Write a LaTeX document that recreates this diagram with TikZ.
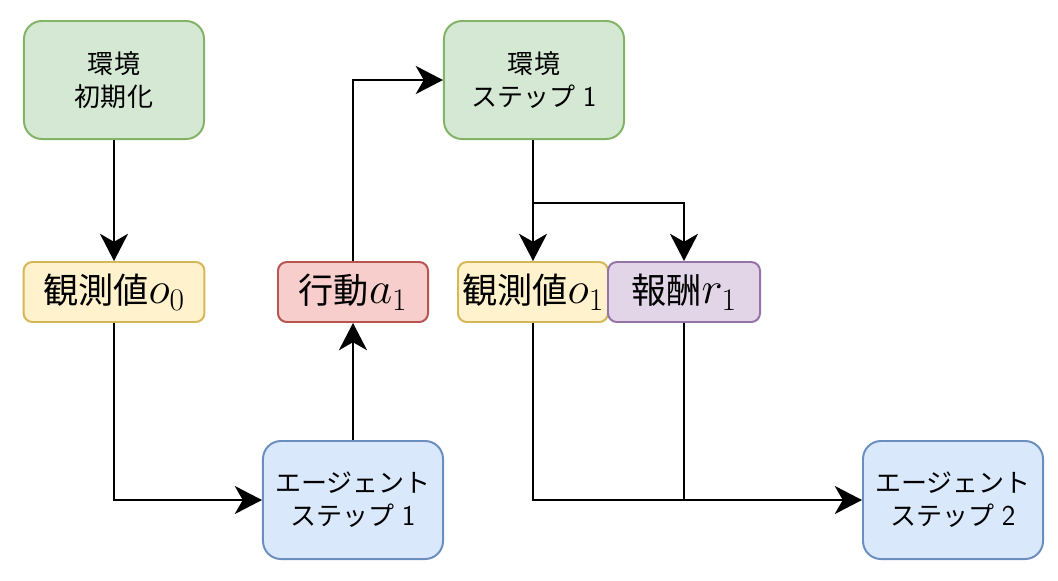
\RequirePackage{fix-cm}
\documentclass[tikz,border=0pt]{standalone}
\usepackage{fontspec}
\setmainfont{Noto Sans CJK JP}
\usepackage{tikz}
\usetikzlibrary{arrows.meta}
\tikzstyle{pixelGrid} = [x = 0.025cm, y = -0.025cm]
\definecolor{envFill}{HTML}{D5E8D4}
\definecolor{envLine}{HTML}{82B366}
\definecolor{obsFill}{HTML}{FFF2CC}
\definecolor{obsLine}{HTML}{D6B656}
\definecolor{actFill}{HTML}{F8CECC}
\definecolor{actLine}{HTML}{B85450}
\definecolor{agentFill}{HTML}{DAE8FC}
\definecolor{agentLine}{HTML}{6C8EBF}
\definecolor{rewFill}{HTML}{E1D5E7}
\definecolor{rewLine}{HTML}{9673A6}
\tikzstyle{bigBox} = [draw, line width=1.4pt, rounded corners = .45cm, align=center, inner sep=0pt, minimum width=4.5cm, minimum height=2.95cm, font=\fontsize{18.5}{23.5}\selectfont]
\tikzstyle{smallBox} = [draw, line width=1.4pt, rounded corners = .22cm, inner sep=0pt, minimum height=1.5cm, font=\fontsize{25}{28}\selectfont]
\tikzstyle{envBox} = [bigBox, fill=envFill, draw=envLine]
\tikzstyle{agentBox} = [bigBox, fill=agentFill, draw=agentLine]
\tikzstyle{obsBox} = [smallBox, fill=obsFill, draw=obsLine]
\tikzstyle{actBox} = [smallBox, fill=actFill, draw=actLine]
\tikzstyle{rewBox} = [smallBox, fill=rewFill, draw=rewLine]
\tikzstyle{flowLine} = [line width=2pt, -{Stealth[length=0.68cm, width=0.7cm, inset=0.2cm]}]
\tikzstyle{joinLine} = [line width=2pt]
\newcommand{\mathLabel}[1]{{\fontsize{32}{34}\selectfont$#1$}}
\newcommand{\stepNum}[1]{\hspace{1pt}{\sffamily\fontsize{20.5}{23.5}\selectfont #1}}

\begin{document}
\begin{tikzpicture}[pixelGrid]
  \useasboundingbox (0,0) rectangle (1058,580);

  % environment side
  \node[envBox] (init) at (114, 80) {環境\\初期化};
  \node[envBox] (env1) at (534, 80) {環境\\ステップ \stepNum{1}};

  % observations, action, reward
  \node[obsBox, minimum width=4.52cm] (obs0) at (114, 292) {観測値\mathLabel{o_0}};
  \node[actBox, minimum width=3.75cm] (act1) at (353, 292) {行動\mathLabel{a_1}};
  \node[obsBox, minimum width=3.75cm] (obs1) at (533, 292) {観測値\mathLabel{o_1}};
  \node[rewBox, minimum width=3.8cm] (rew1) at (684, 292) {報酬\mathLabel{r_1}};

  % agent side
  \node[agentBox] (agent1) at (353, 500) {エージェント\\ステップ \stepNum{1}};
  \node[agentBox] (agent2) at (953, 500) {エージェント\\ステップ \stepNum{2}};

  \coordinate (split) at (obs1.north |- 0,203);
  \coordinate (merge) at (rew1.south |- agent2.west);

  \draw[flowLine] (init) -- (obs0);
  \draw[flowLine] (obs0) |- (agent1);
  \draw[flowLine] (agent1) -- (act1);
  \draw[flowLine] (act1) |- (env1);
  \draw[flowLine] (env1.south -| obs1.north) -- (obs1);
  \draw[flowLine] (split) -| (rew1);
  \draw[flowLine] (obs1) |- (agent2);
  \draw[joinLine] (rew1) -- (merge);
\end{tikzpicture}
\end{document}
